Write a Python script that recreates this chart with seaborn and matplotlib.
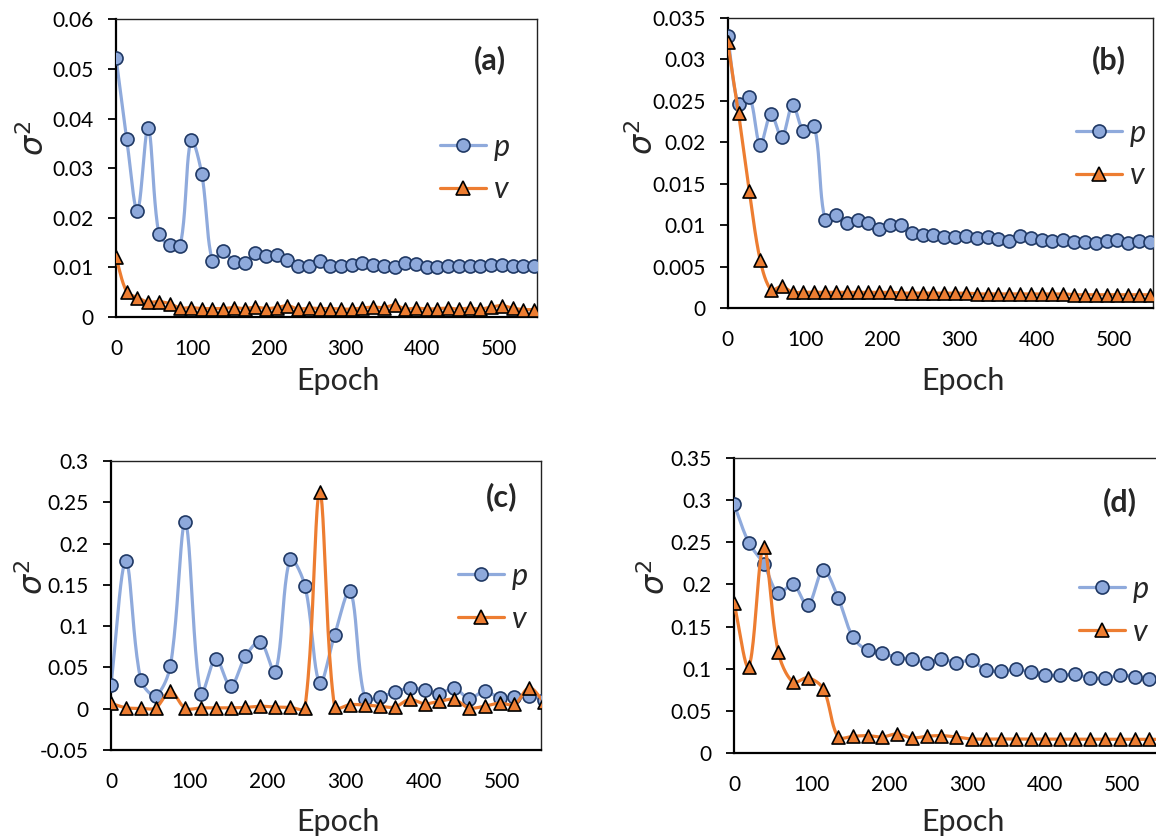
import numpy as np
import matplotlib
matplotlib.use("Agg")
import matplotlib.pyplot as plt
import seaborn as sns
from matplotlib.lines import Line2D
from matplotlib.ticker import FuncFormatter, MultipleLocator, FixedLocator

# ---------------- data ----------------
epochs_ab = list(range(0, 547, 14))
p_a = [0.0523, 0.0359, 0.0214, 0.0382, 0.0167, 0.0146, 0.0144, 0.0357, 0.0289, 0.0113,
       0.0134, 0.0110, 0.0109, 0.0130, 0.0123, 0.0126, 0.0115, 0.0102, 0.0103, 0.0112,
       0.0103, 0.0102, 0.0105, 0.0109, 0.0104, 0.0102, 0.0100, 0.0108, 0.0106, 0.0100,
       0.0100, 0.0102, 0.0102, 0.0102, 0.0103, 0.0104, 0.0104, 0.0103, 0.0103, 0.0102]
v_a = [0.0120, 0.0051, 0.0039, 0.0030, 0.0031, 0.0027, 0.0018, 0.0019, 0.0017, 0.0017,
       0.0017, 0.0019, 0.0017, 0.0020, 0.0017, 0.0019, 0.0023, 0.0016, 0.0018, 0.0017,
       0.0017, 0.0016, 0.0016, 0.0018, 0.0020, 0.0019, 0.0024, 0.0016, 0.0018, 0.0016,
       0.0017, 0.0018, 0.0016, 0.0018, 0.0016, 0.0020, 0.0023, 0.0018, 0.0015, 0.0015]
p_b = [0.0328, 0.0246, 0.0255, 0.0197, 0.0234, 0.0206, 0.0245, 0.0214, 0.0220, 0.0106,
       0.0112, 0.0102, 0.0106, 0.0102, 0.0095, 0.0100, 0.0100, 0.0091, 0.0088, 0.0088,
       0.0086, 0.0086, 0.0087, 0.0085, 0.0086, 0.0083, 0.0081, 0.0087, 0.0084, 0.0082,
       0.0081, 0.0082, 0.0080, 0.0080, 0.0079, 0.0081, 0.0082, 0.0078, 0.0081, 0.0080]
v_b = [0.0321, 0.0235, 0.0141, 0.0058, 0.0022, 0.0026, 0.0019, 0.0019, 0.0019, 0.0019,
       0.0019, 0.0019, 0.0019, 0.0019, 0.0019, 0.0019, 0.0018, 0.0018, 0.0018, 0.0018,
       0.0018, 0.0018, 0.0018, 0.0017, 0.0017, 0.0017, 0.0017, 0.0017, 0.0017, 0.0017,
       0.0017, 0.0017, 0.0016, 0.0016, 0.0016, 0.0016, 0.0016, 0.0016, 0.0016, 0.0016]

epochs_cd = [0, 19, 38, 57, 76, 95, 115, 134, 153, 172, 191, 210, 229, 248, 267,
             286, 306, 325, 344, 363, 382, 401, 420, 439, 458, 478, 497, 516, 535, 554]
p_c = [0.0293, 0.179, 0.0353, 0.016, 0.052, 0.2258, 0.0176, 0.0606, 0.0273, 0.0634,
       0.0814, 0.0441, 0.1809, 0.1492, 0.0309, 0.0894, 0.1428, 0.0116, 0.0144, 0.020,
       0.0253, 0.0225, 0.018, 0.0253, 0.012, 0.0217, 0.0132, 0.014, 0.0148, 0.011]
v_c = [0.0064, 0.0012, 0.0004, 0.001, 0.021, 0.0005, 0.001, 0.001, 0.001, 0.0016,
       0.003, 0.002, 0.0016, 0.001, 0.262, 0.0016, 0.005, 0.0044, 0.003, 0.002,
       0.0112, 0.006, 0.009, 0.0112, 0.001, 0.003, 0.0068, 0.0052, 0.0253, 0.008]
p_d = [0.2953, 0.2497, 0.2248, 0.1895, 0.2002, 0.1752, 0.2172, 0.1843, 0.1376, 0.1217,
       0.1189, 0.113, 0.1118, 0.107, 0.1118, 0.107, 0.110, 0.0979, 0.0971, 0.0991,
       0.0959, 0.092, 0.092, 0.0932, 0.0892, 0.0884, 0.0925, 0.0905, 0.0880, 0.089]
v_d = [0.1784, 0.1023, 0.245, 0.1197, 0.084, 0.0892, 0.0761, 0.019, 0.0198, 0.0206,
       0.019, 0.0226, 0.0178, 0.0198, 0.0206, 0.019, 0.0166, 0.0166, 0.0166, 0.0166,
       0.0165, 0.0165, 0.0164, 0.0165, 0.0164, 0.0163, 0.0163, 0.0163, 0.0162, 0.0162]

panel_labels = ["(a)", "(b)", "(c)", "(d)"]
series_labels = ["p", "v"]
x_ticks = [0, 100, 200, 300, 400, 500]

# ---------------- style ----------------
sns.set_theme(style="white")
plt.rcParams["font.family"] = ["Lato", "DejaVu Sans"]
plt.rcParams["axes.unicode_minus"] = False

P_LINE = "#8FAADC"
P_FILL = "#8EA9DB"
P_EDGE = "#1F3864"
V_LINE = "#ED7D31"
V_FILL = "#ED7D31"
V_EDGE = "#000000"

W, H = 1156, 838
fig = plt.figure(figsize=(W / 100, H / 100), dpi=100)
fig.patch.set_facecolor("white")


def px_axes(l, t, r, b):
    return fig.add_axes([l / W, 1 - b / H, (r - l) / W, (b - t) / H])


def excel_smooth(ax, x, y, n=24):
    pts = ax.transData.transform(np.column_stack([x, y]))
    N = len(pts)
    out = [pts[0]]
    f = 1.0 / 3.0
    for i in range(N - 1):
        p0 = pts[i - 1] if i > 0 else pts[i]
        p1, p2 = pts[i], pts[i + 1]
        p3 = pts[i + 2] if i + 2 < N else pts[i + 1]
        d01 = np.hypot(*(p1 - p0)); d12 = np.hypot(*(p2 - p1)); d23 = np.hypot(*(p3 - p2))
        f1 = f * d12 / (d01 + d12) if d01 + d12 > 0 else 0
        f2 = f * d12 / (d12 + d23) if d12 + d23 > 0 else 0
        c1 = p1 + f1 * (p2 - p0)
        c2 = p2 - f2 * (p3 - p1)
        t = np.linspace(0, 1, n)[1:, None]
        seg = (1 - t) ** 3 * p1 + 3 * (1 - t) ** 2 * t * c1 + 3 * (1 - t) * t ** 2 * c2 + t ** 3 * p2
        out.extend(seg)
    out = np.array(out)
    return ax.transData.inverted().transform(out)


def fmt(v, pos):
    return f"{round(v, 6):g}"


panels = [
    dict(box=(116, 19.4, 537, 317), x=epochs_ab, p=p_a, v=v_a, ylim=(0, 0.06), ystep=0.01,
         leg=(440, 146, 190), lab=(490, 60), ylab=(34, 138), xlab=(338, 381)),
    dict(box=(727.7, 18, 1153, 308), x=epochs_ab, p=p_b, v=v_b, ylim=(0, 0.035), ystep=0.005,
         leg=(1076, 133, 175), lab=(1109, 60), ylab=(643, 137), xlab=(963, 381)),
    dict(box=(111, 461, 541, 750), x=epochs_cd, p=p_c, v=v_c, ylim=(-0.05, 0.3), ystep=0.05,
         leg=(458, 577, 618), lab=(502, 497), ylab=(33, 577), xlab=(338, 822)),
    dict(box=(734, 458, 1161, 753), x=epochs_cd, p=p_d, v=v_d, ylim=(0, 0.35), ystep=0.05,
         leg=(1079, 589, 632), lab=(1120, 502), ylab=(655, 577), xlab=(963, 822)),
]

for i, P in enumerate(panels):
    l, t, r, b = P["box"]
    ax = px_axes(l, t, r, b)
    ax.set_xlim(0, 550)
    ax.set_ylim(*P["ylim"])
    ax.set_facecolor("white")

    sp = excel_smooth(ax, P["x"], P["p"])
    sv = excel_smooth(ax, P["x"], P["v"])
    sns.lineplot(x=sp[:, 0], y=sp[:, 1], ax=ax, sort=False, estimator=None,
                 color=P_LINE, linewidth=2.3, zorder=2)
    sns.scatterplot(x=P["x"], y=P["p"], ax=ax, marker="o", s=88, color=P_FILL,
                    edgecolor=P_EDGE, linewidth=1.2, zorder=3)
    sns.lineplot(x=sv[:, 0], y=sv[:, 1], ax=ax, sort=False, estimator=None,
                 color=V_LINE, linewidth=2.3, zorder=4)
    sns.scatterplot(x=P["x"], y=P["v"], ax=ax, marker="^", s=88, color=V_FILL,
                    edgecolor=V_EDGE, linewidth=1.2, zorder=5)
    ax.set_xlim(0, 550)
    ax.set_ylim(*P["ylim"])

    ax.xaxis.set_major_locator(FixedLocator(x_ticks))
    ax.yaxis.set_major_locator(MultipleLocator(P["ystep"]))
    ax.yaxis.set_major_formatter(FuncFormatter(fmt))
    ax.xaxis.set_major_formatter(FuncFormatter(fmt))
    ax.tick_params(axis="y", left=True, direction="out", length=6, width=1.3,
                   pad=10, labelsize=15, colors="black")
    ax.tick_params(axis="x", bottom=False, length=0, pad=16, labelsize=15, colors="black")
    for side in ["left", "bottom"]:
        ax.spines[side].set_linewidth(1.6)
        ax.spines[side].set_color("black")
    for side in ["top", "right"]:
        ax.spines[side].set_linewidth(1.0)
        ax.spines[side].set_color("#222222")
    ax.grid(False)

    ax.set_xlabel("Epoch", fontsize=22)
    ax.xaxis.set_label_coords((P["xlab"][0] - l) / (r - l), (b - P["xlab"][1]) / (b - t))
    ax.xaxis.label.set_va("center")
    ax.set_ylabel(r"$\sigma^2$", fontsize=23)
    ax.yaxis.set_label_coords((P["ylab"][0] - l) / (r - l), (b - P["ylab"][1]) / (b - t))
    ax.yaxis.label.set_va("center")

    lx, ly = P["lab"]
    fig.text(lx / W, 1 - ly / H, panel_labels[i], ha="center", va="center",
             fontsize=22, fontweight="bold")

    handles = [
        Line2D([], [], color=P_LINE, linewidth=2.3, marker="o", markersize=9.4,
               markerfacecolor=P_FILL, markeredgecolor=P_EDGE, markeredgewidth=1.2),
        Line2D([], [], color=V_LINE, linewidth=2.3, marker="^", markersize=9.4,
               markerfacecolor=V_FILL, markeredgecolor=V_EDGE, markeredgewidth=1.2),
    ]
    lx0, py, vy = P["leg"]
    ax.legend(handles, series_labels, loc="center left",
              bbox_to_anchor=(lx0 / W, 1 - (py + vy) / 2 / H),
              bbox_transform=fig.transFigure, frameon=False,
              prop={"style": "italic", "size": 22}, handlelength=1.5,
              handletextpad=0.25, labelspacing=0.48, borderpad=0, borderaxespad=0)

fig.savefig("out.png", dpi=100, facecolor="white")
